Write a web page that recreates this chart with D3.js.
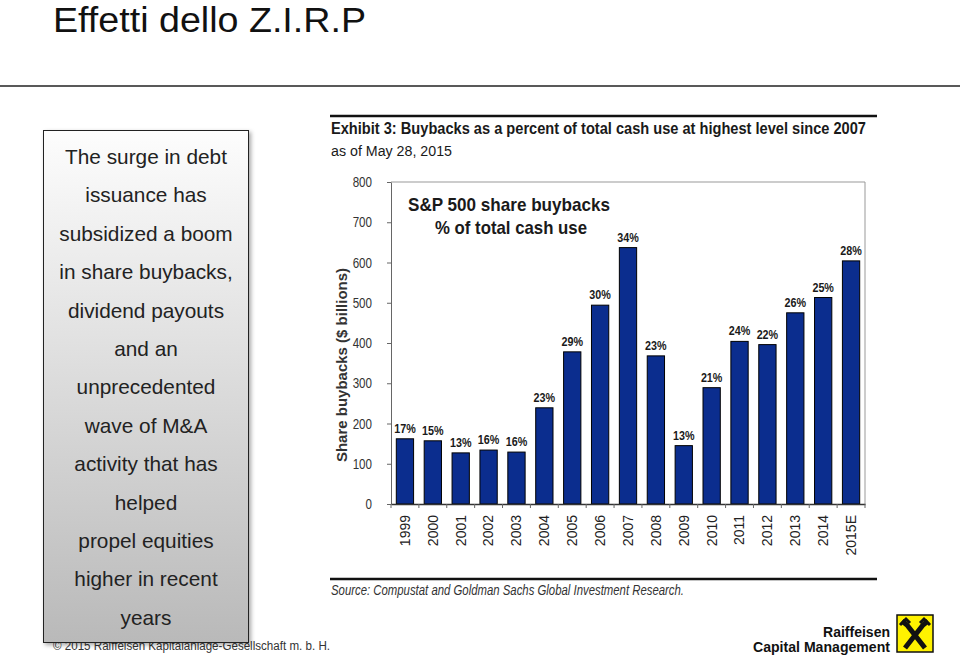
<!DOCTYPE html>
<html><head><meta charset="utf-8">
<script src="https://cdn.jsdelivr.net/npm/d3@7"></script>
<style>
body{margin:0;background:#fff;}
svg{display:block;}
</style></head>
<body>
<svg id="c" width="960" height="656"></svg>
<script>
const years = ["1999","2000","2001","2002","2003","2004","2005","2006","2007","2008","2009","2010","2011","2012","2013","2014","2015E"];
const buybacks = [162,157,127,134,129,239,378,494,637,368,145,289,404,396,475,513,604];
const pctLabels = ["17%","15%","13%","16%","16%","23%","29%","30%","34%","23%","13%","21%","24%","22%","26%","25%","28%"];
const yTicks = [0,100,200,300,400,500,600,700,800];
const boxLines = ["The surge in debt","issuance has","subsidized a boom","in share buybacks,","dividend payouts","and an","unprecedented","wave of M&A","activity that has","helped","propel equities","higher in recent","years"];

const svg = d3.select("#c");
const helv = "'Liberation Sans',Arial,Helvetica,sans-serif";

// squeeze text horizontally to imitate a narrow face
function narrow(sel, k){
  sel.each(function(){
    const w = this.getComputedTextLength();
    d3.select(this).attr("textLength", w*k).attr("lengthAdjust","spacingAndGlyphs");
  });
  return sel;
}
function fit(sel, w){ return sel.attr("textLength", w).attr("lengthAdjust","spacingAndGlyphs"); }

// Title
fit(svg.append("text").attr("x",53).attr("y",32).attr("font-family",helv)
  .attr("font-size",35).attr("fill","#111").text("Effetti dello Z.I.R.P"), 313);
svg.append("line").attr("x1",0).attr("x2",960).attr("y1",86).attr("y2",86)
  .attr("stroke","#222").attr("stroke-width",1.5);

// Left gradient box
const defs = svg.append("defs");
const g = defs.append("linearGradient").attr("id","bg").attr("x1",0).attr("y1",0).attr("x2",0).attr("y2",1);
g.append("stop").attr("offset","0%").attr("stop-color","#fdfdfd");
g.append("stop").attr("offset","100%").attr("stop-color","#b9b9b9");
const f = defs.append("filter").attr("id","sh").attr("x","-10%").attr("y","-10%").attr("width","130%").attr("height","120%");
f.append("feDropShadow").attr("dx",2).attr("dy",2).attr("stdDeviation",2).attr("flood-color","#000").attr("flood-opacity",0.35);

// footer copyright (partly behind box)
fit(svg.append("text").attr("x",53).attr("y",650).attr("font-family",helv).attr("font-size",12.5)
  .attr("fill","#333").text("© 2015 Raiffeisen Kapitalanlage-Gesellschaft m. b. H."), 277);

svg.append("rect").attr("x",43.5).attr("y",130.5).attr("width",205).attr("height",512)
  .attr("fill","url(#bg)").attr("stroke","#222").attr("stroke-width",1).attr("filter","url(#sh)");
svg.append("g").selectAll("text").data(boxLines).join("text")
  .attr("x",146).attr("y",(d,i)=>164+i*38.4).attr("text-anchor","middle")
  .attr("font-family",helv).attr("font-size",20.8).attr("fill","#222").text(d=>d);

// Exhibit header
svg.append("line").attr("x1",330).attr("x2",877).attr("y1",116).attr("y2",116).attr("stroke","#111").attr("stroke-width",2.5);
fit(svg.append("text").attr("x",331).attr("y",134).attr("font-family",helv).attr("font-weight","bold")
  .attr("font-size",16.5).attr("fill","#1a1a1a").text("Exhibit 3: Buybacks as a percent of total cash use at highest level since 2007"), 535);
fit(svg.append("text").attr("x",331).attr("y",156).attr("font-family",helv)
  .attr("font-size",15.5).attr("fill","#1a1a1a").text("as of May 28, 2015"), 121);

// Chart
const x0 = 391, x1 = 865, yTop = 182, yBot = 504;
const x = d3.scaleBand().domain(years).range([x0,x1]).paddingInner(0.38).paddingOuter(0.19);
const y = d3.scaleLinear().domain([0,800]).range([yBot,yTop]);

// frame (top & right)
svg.append("path").attr("d",`M${x0},${yTop}H${x1}V${yBot}`).attr("fill","none").attr("stroke","#999").attr("stroke-width",1);

// bars
svg.append("g").selectAll("rect").data(years).join("rect")
  .attr("x",d=>x(d)).attr("width",x.bandwidth())
  .attr("y",(d,i)=>y(buybacks[i])).attr("height",(d,i)=>yBot-y(buybacks[i]))
  .attr("fill","#0b2d8e").attr("stroke","#000").attr("stroke-width",1);

// pct labels
narrow(svg.append("g").selectAll("text").data(years).join("text")
  .attr("x",d=>x(d)+x.bandwidth()/2).attr("y",(d,i)=>y(buybacks[i])-6)
  .attr("text-anchor","middle").attr("font-family",helv).attr("font-weight","bold")
  .attr("font-size",12.5).attr("fill","#1a1a1a").text((d,i)=>pctLabels[i]), 0.86);

// y axis
const ya = svg.append("g").attr("transform",`translate(${x0},0)`)
  .call(d3.axisLeft(y).tickValues(yTicks).tickSize(4).tickPadding(15).tickSizeOuter(0));
ya.select(".domain").attr("stroke","#666");
ya.selectAll(".tick line").attr("stroke","#666");
narrow(ya.selectAll("text").attr("font-family",helv).attr("font-size",14.5).attr("fill","#333"), 0.8);

// x axis
const xa = svg.append("g").attr("transform",`translate(0,${yBot})`)
  .call(d3.axisBottom(x).tickSize(0).tickSizeOuter(0));
xa.select(".domain").attr("stroke","#333").attr("stroke-width",1.5);
xa.selectAll("text").attr("font-family",helv).attr("font-size",14).attr("fill","#222")
  .attr("transform","rotate(-90)").attr("text-anchor","end").attr("dy","0.35em")
  .attr("x",-11).attr("y",0);
// tick marks between bars
const bounds = d3.range(years.length+1).map(i=>x0+ i*(x1-x0)/years.length);
svg.append("g").selectAll("line").data(bounds).join("line")
  .attr("x1",d=>d).attr("x2",d=>d).attr("y1",yBot).attr("y2",yBot+4).attr("stroke","#666");

// y label
svg.append("text").attr("transform","translate(347,365) rotate(-90)").attr("text-anchor","middle")
  .attr("font-family",helv).attr("font-weight","bold").attr("font-size",15).attr("fill","#333")
  .text("Share buybacks ($ billions)");

// inner title
fit(svg.append("text").attr("x",509).attr("y",211).attr("text-anchor","middle").attr("font-family",helv)
  .attr("font-weight","bold").attr("font-size",18.5).attr("fill","#1a1a1a").text("S&P 500 share buybacks"), 202);
fit(svg.append("text").attr("x",511).attr("y",234).attr("text-anchor","middle").attr("font-family",helv)
  .attr("font-weight","bold").attr("font-size",18.5).attr("fill","#1a1a1a").text("% of total cash use"), 152);

// source
svg.append("line").attr("x1",330).attr("x2",877).attr("y1",579).attr("y2",579).attr("stroke","#111").attr("stroke-width",2.5);
fit(svg.append("text").attr("x",331).attr("y",595).attr("font-family",helv).attr("font-style","italic")
  .attr("font-size",14.5).attr("fill","#333").text("Source: Compustat and Goldman Sachs Global Investment Research."), 353);

// logo
svg.append("text").attr("x",890).attr("y",637).attr("text-anchor","end").attr("font-family",helv)
  .attr("font-weight","bold").attr("font-size",14).attr("fill","#111").text("Raiffeisen");
fit(svg.append("text").attr("x",890).attr("y",652).attr("text-anchor","end").attr("font-family",helv)
  .attr("font-weight","bold").attr("font-size",14).attr("fill","#111").text("Capital Management"), 137);
const lg = svg.append("g").attr("transform","translate(897,615)");
lg.append("rect").attr("width",36).attr("height",37).attr("fill","#fff200").attr("stroke","#111").attr("stroke-width",1.5);
lg.append("path").attr("d","M8,33 L26,10 L31,6 M28,33 L10,10 L5,6").attr("fill","none")
  .attr("stroke","#111").attr("stroke-width",5).attr("stroke-linecap","butt");
lg.append("path").attr("d","M3,10 L9,4 L13,8 M33,10 L27,4 L23,8").attr("fill","none")
  .attr("stroke","#111").attr("stroke-width",3);
</script>
</body></html>
